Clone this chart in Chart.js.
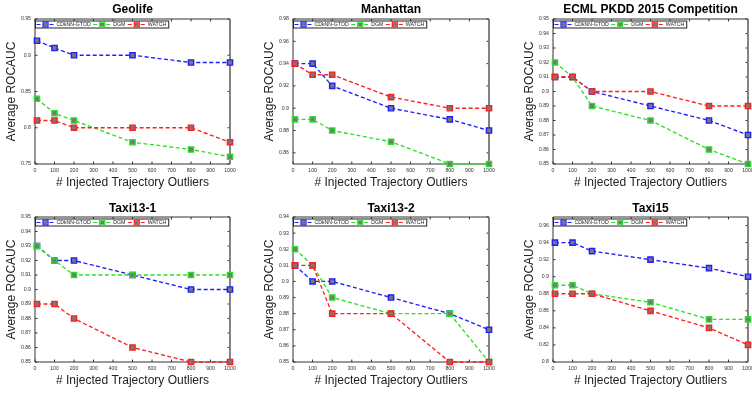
<!DOCTYPE html>
<html>
  <head>
    <title>Average ROCAUC vs. injected trajectory outliers</title>
    <style>
      body { margin: 0; background: #fff; }
      #wrap { position: relative; width: 752px; height: 393px; overflow: hidden; }
      #wrap canvas { position: absolute; }
    </style>
  </head>
  <body>
    <script src="https://cdn.jsdelivr.net/npm/chart.js@4.4.0/dist/chart.umd.min.js"></script>

    <div id="wrap"></div>

    <script>
      // number of injected outliers (x values) and x tick labels
      const outliers = [10, 100, 200, 500, 800, 1000];
      const xTicks = [0, 100, 200, 300, 400, 500, 600, 700, 800, 900, 1000];
      const methods = ['CDkNN-GTOD', 'DGM', 'WATCH'];

      // Geolife
      const geolifeCdknn = [0.92, 0.91, 0.90, 0.90, 0.89, 0.89];
      const geolifeDgm   = [0.84, 0.82, 0.81, 0.78, 0.77, 0.76];
      const geolifeWatch = [0.81, 0.81, 0.80, 0.80, 0.80, 0.78];
      const geolifeTicks = [0.75, 0.8, 0.85, 0.9, 0.95];

      // Manhattan
      const manhattanCdknn = [0.94, 0.94, 0.92, 0.90, 0.89, 0.88];
      const manhattanDgm   = [0.89, 0.89, 0.88, 0.87, 0.85, 0.85];
      const manhattanWatch = [0.94, 0.93, 0.93, 0.91, 0.90, 0.90];
      const manhattanTicks = [0.86, 0.88, 0.9, 0.92, 0.94, 0.96, 0.98];

      // ECML PKDD 2015
      const ecmlCdknn = [0.91, 0.91, 0.90, 0.89, 0.88, 0.87];
      const ecmlDgm   = [0.92, 0.91, 0.89, 0.88, 0.86, 0.85];
      const ecmlWatch = [0.91, 0.91, 0.90, 0.90, 0.89, 0.89];
      const ecmlTicks = [0.85, 0.86, 0.87, 0.88, 0.89, 0.9, 0.91, 0.92, 0.93, 0.94, 0.95];

      // Taxi13-1
      const taxi131Cdknn = [0.93, 0.92, 0.92, 0.91, 0.90, 0.90];
      const taxi131Dgm   = [0.93, 0.92, 0.91, 0.91, 0.91, 0.91];
      const taxi131Watch = [0.89, 0.89, 0.88, 0.86, 0.85, 0.85];
      const taxi131Ticks = [0.85, 0.86, 0.87, 0.88, 0.89, 0.9, 0.91, 0.92, 0.93, 0.94, 0.95];

      // Taxi13-2
      const taxi132Cdknn = [0.91, 0.90, 0.90, 0.89, 0.88, 0.87];
      const taxi132Dgm   = [0.92, 0.91, 0.89, 0.88, 0.88, 0.85];
      const taxi132Watch = [0.91, 0.91, 0.88, 0.88, 0.85, 0.85];
      const taxi132Ticks = [0.85, 0.86, 0.87, 0.88, 0.89, 0.9, 0.91, 0.92, 0.93, 0.94];

      // Taxi15
      const taxi15Cdknn = [0.94, 0.94, 0.93, 0.92, 0.91, 0.90];
      const taxi15Dgm   = [0.89, 0.89, 0.88, 0.87, 0.85, 0.85];
      const taxi15Watch = [0.88, 0.88, 0.88, 0.86, 0.84, 0.82];
      const taxi15Ticks = [0.8, 0.82, 0.84, 0.86, 0.88, 0.9, 0.92, 0.94, 0.96];

      const panels = [
        { title: 'Geolife', series: [geolifeCdknn, geolifeDgm, geolifeWatch], ticks: geolifeTicks, min: 0.75, max: 0.95 },
        { title: 'Manhattan', series: [manhattanCdknn, manhattanDgm, manhattanWatch], ticks: manhattanTicks, min: 0.85, max: 0.98 },
        { title: 'ECML PKDD 2015 Competition', series: [ecmlCdknn, ecmlDgm, ecmlWatch], ticks: ecmlTicks, min: 0.85, max: 0.95 },
        { title: 'Taxi13-1', series: [taxi131Cdknn, taxi131Dgm, taxi131Watch], ticks: taxi131Ticks, min: 0.85, max: 0.95 },
        { title: 'Taxi13-2', series: [taxi132Cdknn, taxi132Dgm, taxi132Watch], ticks: taxi132Ticks, min: 0.85, max: 0.94 },
        { title: 'Taxi15', series: [taxi15Cdknn, taxi15Dgm, taxi15Watch], ticks: taxi15Ticks, min: 0.8, max: 0.97 }
      ];

      // where each subplot sits on the page
      const cols = [
        { x: 0, w: 250, padR: 20 },
        { x: 258, w: 242, padR: 11 },
        { x: 518, w: 234, padR: 4 }
      ];
      const rows = [
        { y: 0, h: 196, xAxisH: 32, titleTop: 2.6, titleBottom: 2, xTitleBottom: 5.8 },
        { y: 196, h: 197, xAxisH: 31, titleTop: 5.1, titleBottom: 1.5, xTitleBottom: 4.8 }
      ];

      const lineColors = ['rgb(30,30,255)', 'rgb(40,225,40)', 'rgb(255,30,30)'];
      const markerFill = 'rgb(120,120,120)';
      const fontFamily = "'Liberation Sans', Arial, sans-serif";

      Chart.defaults.font.family = fontFamily;

      const fmt = v => String(+v.toFixed(2));

      // box around the plot and inward tick marks
      const framePlugin = {
        id: 'frame',
        beforeDatasetsDraw(chart) {
          const { ctx, chartArea: a, scales: { x, y } } = chart;
          ctx.save();
          ctx.strokeStyle = '#333';
          ctx.lineWidth = 1;
          ctx.beginPath();
          ctx.moveTo(a.right, a.top); ctx.lineTo(a.left, a.top);
          ctx.lineTo(a.left, a.bottom); ctx.lineTo(a.right, a.bottom);
          x.ticks.forEach(t => {
            const px = x.getPixelForValue(t.value);
            ctx.moveTo(px, a.bottom); ctx.lineTo(px, a.bottom - 2.5);
            ctx.moveTo(px, a.top); ctx.lineTo(px, a.top + 2.5);
          });
          y.ticks.forEach(t => {
            const py = y.getPixelForValue(t.value);
            ctx.moveTo(a.left, py); ctx.lineTo(a.left + 2.5, py);
            ctx.moveTo(a.right, py); ctx.lineTo(a.right - 2.5, py);
          });
          ctx.stroke();
          ctx.strokeStyle = '#777';
          ctx.lineWidth = 1.8;
          ctx.beginPath();
          ctx.moveTo(a.right, a.top); ctx.lineTo(a.right, a.bottom);
          ctx.stroke();
          ctx.restore();
        }
      };

      // boxed one-row legend in the top left corner of the plot
      const insideLegend = {
        id: 'insideLegend',
        afterDatasetsDraw(chart) {
          const { ctx, chartArea: a } = chart;
          const sets = chart.data.datasets;
          ctx.save();
          ctx.font = '5.2px ' + fontFamily;
          const cy = a.top + 5.5;
          const widths = sets.map(ds => ctx.measureText(ds.label).width);
          const boxL = a.left + 0.5, boxT = a.top + 2;
          let boxW = 1;
          widths.forEach(w => { boxW += 20 + w + 2.5; });
          ctx.fillStyle = '#fff';
          ctx.fillRect(boxL, boxT, boxW, 7);
          ctx.strokeStyle = '#222';
          ctx.lineWidth = 1;
          ctx.strokeRect(boxL, boxT, boxW, 7);

          let x = a.left + 1.5;
          sets.forEach((ds, k) => {
            ctx.strokeStyle = ds.borderColor;
            ctx.lineWidth = 1.1;
            ctx.setLineDash([4, 2.5]);
            ctx.beginPath(); ctx.moveTo(x, cy); ctx.lineTo(x + 18, cy); ctx.stroke();
            ctx.setLineDash([]);
            ctx.fillStyle = markerFill;
            ctx.fillRect(x + 7, cy - 2, 4, 4);
            ctx.lineWidth = 1.2;
            ctx.strokeRect(x + 6.5, cy - 2.5, 5, 5);
            ctx.fillStyle = '#222';
            ctx.textBaseline = 'middle';
            ctx.fillText(ds.label, x + 20, cy + 0.3);
            x += 20 + widths[k] + 2.5;
          });
          ctx.restore();
        }
      };

      const wrap = document.getElementById('wrap');

      panels.forEach((p, i) => {
        const col = cols[i % 3], row = rows[Math.floor(i / 3)];
        const canvas = document.createElement('canvas');
        canvas.width = col.w;
        canvas.height = row.h;
        canvas.style.left = col.x + 'px';
        canvas.style.top = row.y + 'px';
        wrap.appendChild(canvas);

        new Chart(canvas, {
          type: 'line',
          data: {
            datasets: p.series.map((vals, k) => ({
              label: methods[k],
              data: outliers.map((x, j) => ({ x: x, y: vals[j] })),
              borderColor: lineColors[k],
              backgroundColor: markerFill,
              pointBackgroundColor: markerFill,
              pointBorderColor: lineColors[k],
              pointBorderWidth: 1.4,
              pointRadius: 3.7,
              pointStyle: 'rect',
              borderWidth: 1.35,
              borderDash: [4, 2.5],
              tension: 0,
              clip: false,
              order: 3 - k
            }))
          },
          options: {
            responsive: false,
            animation: false,
            devicePixelRatio: 1,
            layout: { autoPadding: false, padding: { left: 0, right: col.padR, top: 0, bottom: 0 } },
            plugins: {
              title: {
                display: true,
                text: p.title,
                fullSize: false,
                color: '#000',
                font: { size: 12, weight: 'bold' },
                padding: { top: row.titleTop, bottom: row.titleBottom }
              },
              legend: { display: false },
              tooltip: { enabled: false }
            },
            scales: {
              x: {
                type: 'linear',
                min: 0,
                max: 1000,
                grid: { display: false, drawTicks: false },
                border: { display: false },
                afterBuildTicks: s => { s.ticks = xTicks.map(v => ({ value: v })); },
                afterFit: s => { s.height = row.xAxisH; s.paddingLeft = 0; s.paddingRight = 0; },
                ticks: { padding: 3.5, color: '#333', font: { size: 5.2 }, maxRotation: 0, autoSkip: false, callback: v => String(v) },
                title: {
                  display: true,
                  text: '# Injected Trajectory Outliers',
                  color: '#222',
                  font: { size: 12 },
                  padding: { top: 0, bottom: row.xTitleBottom }
                }
              },
              y: {
                type: 'linear',
                min: p.min,
                max: p.max,
                grid: { display: false, drawTicks: false },
                border: { display: false },
                afterBuildTicks: s => { s.ticks = p.ticks.map(v => ({ value: v })); },
                afterFit: s => { s.width = 35; s.paddingTop = 0; s.paddingBottom = 0; },
                ticks: { padding: 4, color: '#333', font: { size: 5.2 }, autoSkip: false, callback: v => fmt(v) },
                title: {
                  display: true,
                  text: 'Average ROCAUC',
                  color: '#222',
                  font: { size: 12 },
                  padding: { top: 4.8, bottom: 0 }
                }
              }
            }
          },
          plugins: [framePlugin, insideLegend]
        });
      });
    </script>
  </body>
</html>
